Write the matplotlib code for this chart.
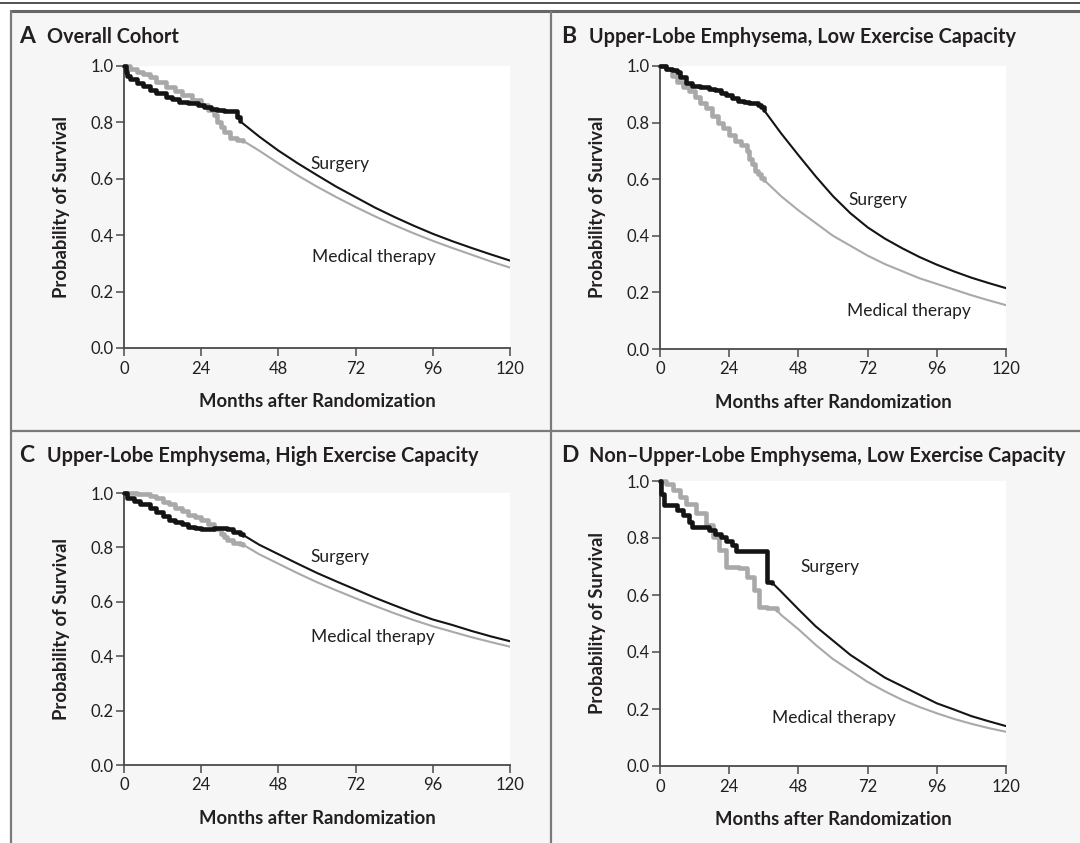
import matplotlib
matplotlib.use("Agg")
import matplotlib.pyplot as plt
from matplotlib.lines import Line2D
from matplotlib.patches import Rectangle

# ---------------- data ----------------
months_ticks = [0, 24, 48, 72, 96, 120]
surv_ticks = [0.0, 0.2, 0.4, 0.6, 0.8, 1.0]
panel_letters = ["A", "B", "C", "D"]
panel_titles = ["Overall Cohort",
                "Upper-Lobe Emphysema, Low Exercise Capacity",
                "Upper-Lobe Emphysema, High Exercise Capacity",
                "Non\u2013Upper-Lobe Emphysema, Low Exercise Capacity"]
x_label = "Months after Randomization"
y_label = "Probability of Survival"
surgery_label = "Surgery"
medical_label = "Medical therapy"

# Panel A - observed (Kaplan-Meier) part
a_surg_km_t = [0, 0.5, 1, 2, 4, 6, 8, 10, 13, 15, 17, 20, 23, 25, 27, 29, 31, 33, 35, 36]
a_surg_km_s = [1.0, 0.98, 0.965, 0.955, 0.94, 0.93, 0.915, 0.905, 0.89, 0.882, 0.874, 0.868, 0.862, 0.856, 0.848, 0.845, 0.842, 0.84, 0.82, 0.805]
a_med_km_t = [0, 2, 4, 6, 8, 10, 13, 16, 18, 21, 24, 26, 28, 29, 30, 31, 33, 35, 37]
a_med_km_s = [1.0, 0.99, 0.98, 0.97, 0.96, 0.945, 0.925, 0.91, 0.897, 0.88, 0.862, 0.845, 0.825, 0.8, 0.785, 0.765, 0.745, 0.738, 0.735]
# Panel A - projected part
a_surg_pr_t = [36, 42, 48, 54, 60, 66, 72, 78, 84, 90, 96, 102, 108, 114, 120]
a_surg_pr_s = [0.805, 0.75, 0.70, 0.655, 0.613, 0.572, 0.535, 0.498, 0.465, 0.434, 0.405, 0.379, 0.355, 0.332, 0.31]
a_med_pr_t = [37, 42, 48, 54, 60, 66, 72, 78, 84, 90, 96, 102, 108, 114, 120]
a_med_pr_s = [0.735, 0.70, 0.655, 0.612, 0.572, 0.535, 0.50, 0.467, 0.436, 0.407, 0.38, 0.355, 0.331, 0.307, 0.285]

# Panel B
b_surg_km_t = [0, 2, 4, 6, 7, 9, 11, 14, 17, 19, 21, 23, 25, 27, 29, 31, 33, 34, 35, 36]
b_surg_km_s = [1.0, 0.99, 0.985, 0.978, 0.96, 0.94, 0.93, 0.927, 0.92, 0.915, 0.905, 0.898, 0.886, 0.876, 0.872, 0.87, 0.868, 0.862, 0.855, 0.845]
b_med_km_t = [0, 2, 4, 6, 8, 10, 12, 14, 16, 18, 20, 22, 24, 26, 28, 30, 31, 32, 33, 34, 35, 36]
b_med_km_s = [1.0, 0.99, 0.965, 0.945, 0.925, 0.91, 0.89, 0.87, 0.85, 0.825, 0.80, 0.78, 0.755, 0.735, 0.72, 0.70, 0.67, 0.655, 0.63, 0.62, 0.605, 0.598]
b_surg_pr_t = [36, 42, 48, 54, 60, 66, 72, 78, 84, 90, 96, 102, 108, 114, 120]
b_surg_pr_s = [0.845, 0.762, 0.685, 0.61, 0.54, 0.48, 0.43, 0.39, 0.356, 0.325, 0.298, 0.274, 0.252, 0.233, 0.215]
b_med_pr_t = [36, 42, 48, 54, 60, 66, 72, 78, 84, 90, 96, 102, 108, 114, 120]
b_med_pr_s = [0.598, 0.54, 0.49, 0.445, 0.40, 0.365, 0.33, 0.30, 0.275, 0.25, 0.23, 0.21, 0.19, 0.172, 0.155]

# Panel C
c_surg_km_t = [0, 1, 3, 5, 8, 10, 12, 14, 16, 18, 20, 22, 24, 26, 28, 30, 32, 34, 36, 37]
c_surg_km_s = [1.0, 0.982, 0.97, 0.96, 0.945, 0.93, 0.915, 0.902, 0.893, 0.885, 0.876, 0.87, 0.867, 0.867, 0.87, 0.87, 0.866, 0.858, 0.85, 0.846]
c_med_km_t = [0, 4, 8, 10, 12, 14, 16, 18, 20, 22, 24, 26, 28, 30, 31, 32, 34, 36, 37]
c_med_km_s = [1.0, 0.995, 0.99, 0.98, 0.968, 0.958, 0.945, 0.932, 0.92, 0.91, 0.9, 0.885, 0.868, 0.85, 0.838, 0.828, 0.818, 0.812, 0.81]
c_surg_pr_t = [37, 42, 48, 54, 60, 66, 72, 78, 84, 90, 96, 102, 108, 114, 120]
c_surg_pr_s = [0.846, 0.81, 0.775, 0.74, 0.706, 0.675, 0.645, 0.615, 0.587, 0.56, 0.535, 0.515, 0.493, 0.473, 0.455]
c_med_pr_t = [37, 42, 48, 54, 60, 66, 72, 78, 84, 90, 96, 102, 108, 114, 120]
c_med_pr_s = [0.81, 0.775, 0.74, 0.705, 0.672, 0.642, 0.613, 0.585, 0.558, 0.533, 0.51, 0.49, 0.47, 0.452, 0.435]

# Panel D
d_surg_km_t = [0, 0.5, 1.5, 4.5, 6, 8, 10, 11, 16, 17, 19, 21, 23, 25, 26.5, 37, 39]
d_surg_km_s = [1.0, 0.955, 0.915, 0.915, 0.897, 0.88, 0.857, 0.84, 0.84, 0.828, 0.815, 0.805, 0.79, 0.775, 0.753, 0.646, 0.642]
d_med_km_t = [0, 2, 4.5, 7, 9, 12.5, 16, 18.5, 20.5, 23, 27.5, 30, 32.5, 34.5, 37, 40.5]
d_med_km_s = [1.0, 0.99, 0.967, 0.944, 0.92, 0.886, 0.845, 0.805, 0.758, 0.70, 0.693, 0.664, 0.617, 0.559, 0.553, 0.547]
d_surg_pr_t = [39, 42, 48, 54, 60, 66, 72, 78, 84, 90, 96, 102, 108, 114, 120]
d_surg_pr_s = [0.642, 0.612, 0.55, 0.49, 0.44, 0.39, 0.35, 0.31, 0.28, 0.25, 0.22, 0.198, 0.175, 0.157, 0.14]
d_med_pr_t = [40.5, 42, 48, 54, 60, 66, 72, 78, 84, 90, 96, 102, 108, 114, 120]
d_med_pr_s = [0.547, 0.53, 0.48, 0.425, 0.375, 0.335, 0.295, 0.262, 0.232, 0.207, 0.185, 0.165, 0.148, 0.133, 0.12]

# ---------------- styling ----------------
W, H, DPI = 1080, 843, 100
FONT = "Lato"
plt.rcParams["font.family"] = [FONT, "DejaVu Sans"]
BG = "#f6f6f6"
FRAME = "#7a7a7a"
AXC = "#4a4a4a"
TXT = "#231f20"
BLACK = "#141414"
GRAY = "#a9a9a9"

fig = plt.figure(figsize=(W / DPI, H / DPI), dpi=DPI, facecolor="white")

def px_rect(l, t, r, b):
    return [l / W, 1 - b / H, (r - l) / W, (b - t) / H]

# background + frame
fig.patches.append(Rectangle((11 / W, 0), 1 - 11 / W, 1 - 11 / H, transform=fig.transFigure,
                             facecolor=BG, edgecolor="none", zorder=-10))
def hline(y, x0, x1, lw, c):
    fig.add_artist(Line2D([x0 / W, x1 / W], [1 - y / H, 1 - y / H], transform=fig.transFigure,
                          color=c, lw=lw, solid_capstyle="butt"))
def vline(x, y0, y1, lw, c):
    fig.add_artist(Line2D([x / W, x / W], [1 - y0 / H, 1 - y1 / H], transform=fig.transFigure,
                          color=c, lw=lw, solid_capstyle="butt"))
hline(2.7, 0, W, 1.1, "#222222")
hline(11, 10, W, 2.2, "#666666")
vline(11, 10, H, 1.6, FRAME)
vline(551, 11, H, 1.6, FRAME)
hline(431, 11, W, 1.6, FRAME)

panels = [
    dict(rect=(124, 66, 510, 348), title_xy=(19, 43), lab_x=(124 + 510) / 2,
         km=[(a_surg_km_t, a_surg_km_s), (a_med_km_t, a_med_km_s)],
         pr=[(a_surg_pr_t, a_surg_pr_s), (a_med_pr_t, a_med_pr_s)],
         s_txt=(58.0, 0.652), m_txt=(58.3, 0.322)),
    dict(rect=(660, 66, 1006, 349), title_xy=(561, 43), lab_x=(660 + 1006) / 2,
         km=[(b_surg_km_t, b_surg_km_s), (b_med_km_t, b_med_km_s)],
         pr=[(b_surg_pr_t, b_surg_pr_s), (b_med_pr_t, b_med_pr_s)],
         s_txt=(65.2, 0.527), m_txt=(64.9, 0.134)),
    dict(rect=(124, 493, 510, 765), title_xy=(19, 462), lab_x=(124 + 510) / 2,
         km=[(c_surg_km_t, c_surg_km_s), (c_med_km_t, c_med_km_s)],
         pr=[(c_surg_pr_t, c_surg_pr_s), (c_med_pr_t, c_med_pr_s)],
         s_txt=(58.0, 0.765), m_txt=(58.0, 0.47)),
    dict(rect=(660, 481, 1006, 766), title_xy=(561, 462), lab_x=(660 + 1006) / 2,
         km=[(d_surg_km_t, d_surg_km_s), (d_med_km_t, d_med_km_s)],
         pr=[(d_surg_pr_t, d_surg_pr_s), (d_med_pr_t, d_med_pr_s)],
         s_txt=(48.6, 0.698), m_txt=(38.8, 0.168)),
]

for i, p in enumerate(panels):
    l, t, r, b = p["rect"]
    ax = fig.add_axes(px_rect(l, t, r, b))
    ax.set_facecolor("white")
    ax.set_xlim(0, 120)
    ax.set_ylim(0, 1.0)
    for sp in ["top", "right"]:
        ax.spines[sp].set_visible(False)
    for sp in ["left", "bottom"]:
        ax.spines[sp].set_color(AXC)
        ax.spines[sp].set_linewidth(1.3)
    ax.set_xticks(months_ticks)
    ax.set_yticks(surv_ticks)
    ax.set_xticklabels([str(m) for m in months_ticks])
    ax.set_yticklabels([f"{v:.1f}" for v in surv_ticks])
    ax.tick_params(direction="out", length=6, width=1.1, color=AXC, labelsize=12,
                   labelcolor=TXT)
    ax.tick_params(axis="x", pad=3)
    ax.tick_params(axis="y", pad=1.5)

    # projected smooth curves
    (st, ss), (mt, ms) = p["pr"]
    ax.plot(mt, ms, color=GRAY, lw=1.5, zorder=3, solid_capstyle="round")
    ax.plot(st, ss, color=BLACK, lw=1.5, zorder=4, solid_capstyle="round")
    # observed step curves
    (st, ss), (mt, ms) = p["km"]
    ax.plot(mt, ms, color=GRAY, lw=3.3, drawstyle="steps-post", zorder=3,
            solid_joinstyle="round", solid_capstyle="round", clip_on=False)
    ax.plot(st, ss, color=BLACK, lw=3.3, drawstyle="steps-post", zorder=4,
            solid_joinstyle="round", solid_capstyle="round", clip_on=False)

    ax.text(p["s_txt"][0], p["s_txt"][1], surgery_label, fontsize=12.5,
            color=TXT, va="center", ha="left")
    ax.text(p["m_txt"][0], p["m_txt"][1], medical_label, fontsize=12.5,
            color=TXT, va="center", ha="left")

    # titles and axis labels in figure pixel space
    tx, ty = p["title_xy"]
    fig.text(tx / W, 1 - ty / H, panel_letters[i], weight="bold",
             fontsize=16.5, color=TXT, va="baseline", ha="left")
    fig.text((tx + 28) / W, 1 - ty / H, panel_titles[i], weight="bold",
             fontsize=14.3, color=TXT, va="baseline", ha="left")
    fig.text(p["lab_x"] / W, 1 - (b + 59) / H, x_label, weight="bold",
             fontsize=13.3, color=TXT, va="baseline", ha="center")
    fig.text((l - 63) / W, 1 - ((t + b) / 2) / H, y_label, weight="bold",
             fontsize=13.3, color=TXT, va="center", ha="center", rotation=90)

fig.savefig("out.png", dpi=DPI, facecolor=fig.get_facecolor())
